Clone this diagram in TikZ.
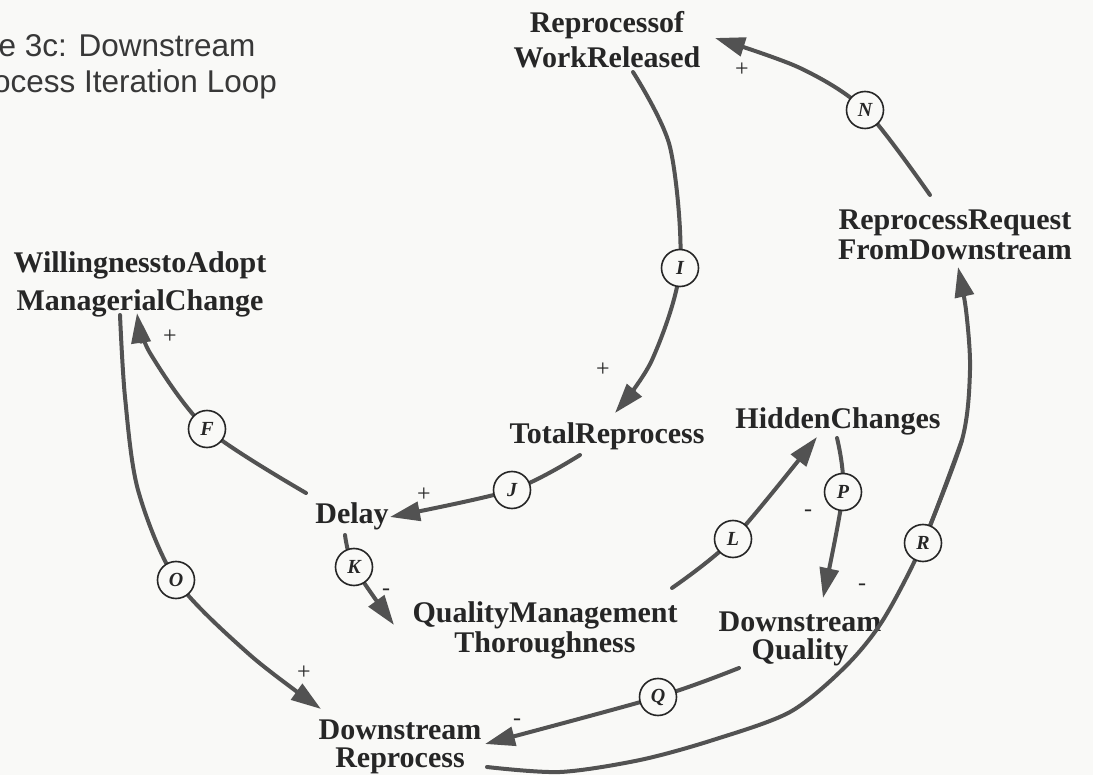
\documentclass[tikz,border=0pt]{standalone}
\usepackage{fontspec}
\setmainfont{Liberation Serif}
\newfontfamily\titlefont{Liberation Sans}
\usetikzlibrary{arrows.meta,calc}
\definecolor{bgc}{RGB}{249,249,247}
\definecolor{lnc}{RGB}{82,82,82}
\definecolor{txc}{RGB}{38,38,38}
\newcommand\vf[1]{\fontsize{30}{#1}\selectfont\bfseries}
\begin{document}
\begin{tikzpicture}[x=1pt,y=-1pt,
  var/.style={align=center, inner sep=0pt, text=txc, font=\vf{32}},
  lk/.style={draw=lnc, line width=4pt, line cap=round,
    -{Triangle[length=30pt,width=19pt]}},
  circ/.style={circle, draw=black!85, line width=1.6pt, fill=bgc,
    minimum size=37pt, inner sep=0pt, text=txc,
    font=\fontsize{20}{20}\selectfont\bfseries\itshape},
  sgn/.style={inner sep=0pt, text=txc, font=\fontsize{24}{24}\selectfont},
  ttl/.style={anchor=base west, inner sep=0pt, text=black!78,
    font=\titlefont\fontsize{31.5}{36}\selectfont}]
\useasboundingbox (0,0) rectangle (1093,775);
\fill[bgc] (0,0) rectangle (1093,775);

% title
\node[ttl] (t1) at (-1.5,57) {e 3c: Downstream};
\node[ttl] (t2) at (-7,93) {ocess Iteration Loop};

% variables
\node[var, font=\vf{35}] (RWR) at (607,40) {Reprocessof\\WorkReleased};
\node[var, font=\vf{30}] (RRFD) at (955,235) {ReprocessRequest\\FromDownstream};
\node[var, font=\vf{38}] (WAMC) at (140,284) {WillingnesstoAdopt\\ManagerialChange};
\node[var] (TR) at (607,436) {TotalReprocess};
\node[var] (HC) at (838,421) {HiddenChanges};
\node[var] (DL) at (352,516) {Delay};
\node[var, font=\vf{30}] (QMT) at (545,630) {QualityManagement\\Thoroughness};
\node[var, font=\vf{28}] (DQ) at (800,639) {Downstream\\Quality};
\node[var, font=\vf{28}] (DR) at (400,747) {Downstream\\Reprocess};

% link marker positions
\coordinate (cN) at (865,110);
\coordinate (cI) at (680,268);
\coordinate (cJ) at (512,490);
\coordinate (cF) at (207,429);
\coordinate (cK) at (354,567);
\coordinate (cL) at (733,539);
\coordinate (cP) at (843,492);
\coordinate (cO) at (176,580);
\coordinate (cQ) at (658,697);
\coordinate (cR) at (923,543);

% connectors
\draw[lk] plot[smooth] coordinates {($(RRFD)+(-25,-40)$) (cN) (800,68) ($(RWR)+(108,-2)$)};
\draw[lk] plot[smooth] coordinates {($(RWR)+(26,32)$) (670,147) (cI) (652,360) ($(TR)+(8,-23)$)};
\draw[lk] plot[smooth] coordinates {($(TR)+(-27,19)$) (cJ) ($(DL)+(38,1)$)};
\draw[lk] plot[smooth] coordinates {($(DL)+(-46,-23)$) (cF) (150,353) ($(WAMC)+(-3,29)$)};
\draw[lk] plot[smooth] coordinates {($(DL)+(-7,19)$) (cK) ($(QMT)+(-151,-5)$)};
\draw[lk] plot[smooth] coordinates {($(QMT)+(127,-42)$) (cL) ($(HC)+(-21,16)$)};
\draw[lk] plot[smooth] coordinates {($(HC)+(-1,17)$) (cP) ($(DQ)+(23,-41)$)};
\draw[lk] plot[smooth] coordinates {($(WAMC)+(-20,31)$) (125,397) (138,490) (cO) (250,655) ($(DR)+(-79,-38)$)};
\draw[lk] plot[smooth] coordinates {($(DQ)+(-61,29)$) (cQ) ($(DR)+(85,-3)$)};
\draw[draw=lnc, line width=4pt, line cap=round] plot[smooth] coordinates {($(DR)+(87,20)$) (560,772) (640,760) (713,740) (790,712) (845,667) (883,620) (cR) (962,440)};
\draw[lk] plot[smooth] coordinates {(cR) (962,440) (970,370) (966,310) ($(RRFD)+(3,32)$)};

% circles
\node[circ] (N) at (cN) {N};
\node[circ] (I) at (cI) {I};
\node[circ] (J) at (cJ) {J};
\node[circ] (F) at (cF) {F};
\node[circ] (K) at (cK) {K};
\node[circ] (L) at (cL) {L};
\node[circ] (P) at (cP) {P};
\node[circ] (O) at (cO) {O};
\node[circ] (Q) at (cQ) {Q};
\node[circ] (R) at (cR) {R};

% polarity signs
\node[sgn] (sN) at (742,70) {+};
\node[sgn] (sI) at (603,370) {+};
\node[sgn] (sJ) at (424,495) {+};
\node[sgn] (sF) at (170,337) {+};
\node[sgn] (sK) at (386,592) {-};
\node[sgn] (sL) at (808,513) {-};
\node[sgn] (sP) at (862,587) {-};
\node[sgn] (sO) at (304,673) {+};
\node[sgn] (sQ) at (517,722) {-};
\end{tikzpicture}
\end{document}
